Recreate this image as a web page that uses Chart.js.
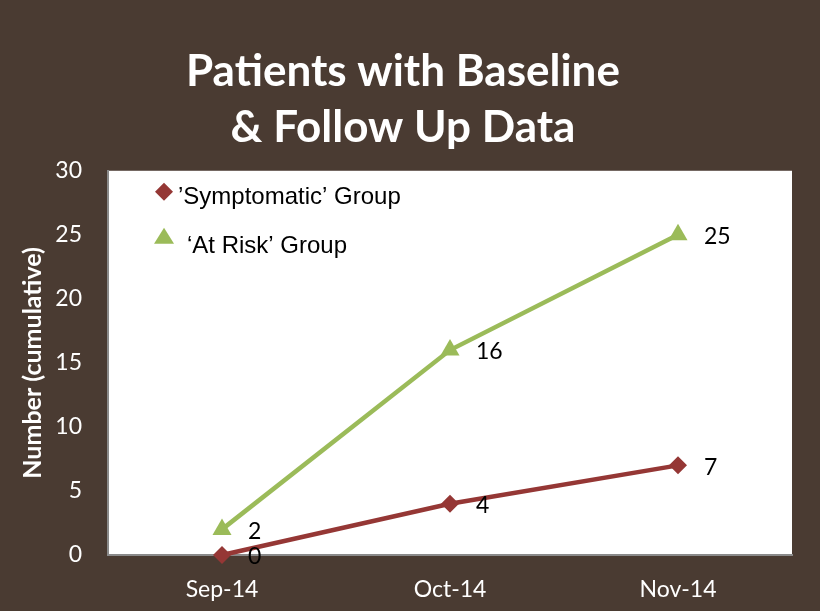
<!DOCTYPE html>
<html>
<head>
<meta charset="utf-8">
<script src="https://cdn.jsdelivr.net/npm/chart.js@4.4.0/dist/chart.umd.min.js"></script>
<style>
  html, body { margin: 0; padding: 0; background: #4a3b32; }
  #wrap { width: 820px; height: 611px; }
</style>
</head>
<body>
<div id="wrap"><canvas id="myChart" width="820" height="611"></canvas></div>
<script>
// ---- data ----
const months = ['Sep-14', 'Oct-14', 'Nov-14'];
const symptomatic = [0, 4, 7];
const atRisk = [2, 16, 25];
const yMin = 0, yMax = 30, yStep = 5;

const BROWN = '#4a3b32';
const RED = '#953735';
const GREEN = '#9bbb59';

// ---- plugins ----
const bgPlugin = {
    id: 'bg',
    beforeDraw(chart) {
        const c = chart.ctx, a = chart.chartArea;
        c.save();
        c.fillStyle = BROWN;
        c.fillRect(0, 0, chart.width, chart.height);
        c.fillStyle = '#fff';
        c.fillRect(a.left, a.top, a.right - a.left, a.bottom - a.top);
        c.restore();
    }
};

// numbers next to the points
const labelPlugin = {
    id: 'pointLabels',
    afterDatasetsDraw(chart) {
        const c = chart.ctx;
        c.save();
        c.font = '23px Lato, sans-serif';
        c.fillStyle = '#000';
        c.textBaseline = 'middle';
        c.textAlign = 'left';
        chart.data.datasets.forEach((ds, i) => {
            const meta = chart.getDatasetMeta(i);
            meta.data.forEach((pt, j) => {
                c.fillText(String(ds.data[j]), pt.x + 26, pt.y + 2);
            });
        });
        c.restore();
    }
};

// legend sitting inside the plot area
const innerLegend = {
    id: 'innerLegend',
    afterDraw(chart) {
        const c = chart.ctx, a = chart.chartArea;
        c.save();
        c.font = '24px "Liberation Sans", Arial, sans-serif';
        c.textBaseline = 'middle';
        // diamond
        let x = a.left + 56, y = a.top + 21;
        c.fillStyle = RED;
        c.beginPath();
        c.moveTo(x, y - 9); c.lineTo(x + 9, y); c.lineTo(x, y + 9); c.lineTo(x - 9, y);
        c.closePath(); c.fill();
        c.fillStyle = '#000';
        c.fillText(chart.data.datasets[0].label, x + 14, y + 6);
        // triangle
        y = a.top + 65;
        c.fillStyle = GREEN;
        c.beginPath();
        c.moveTo(x, y - 8); c.lineTo(x + 10, y + 8); c.lineTo(x - 10, y + 8);
        c.closePath(); c.fill();
        c.fillStyle = '#000';
        c.fillText(chart.data.datasets[1].label, x + 23, y + 11);
        c.restore();
    }
};

const ctx = document.getElementById('myChart').getContext('2d');
const sensorsChart = new Chart(ctx, {
    type: 'line',
    data: {
        labels: months,
        datasets: [
            {
                label: '\u2019Symptomatic\u2019 Group',
                data: symptomatic,
                borderColor: RED,
                backgroundColor: RED,
                borderWidth: 4.5,
                pointStyle: 'rectRot',
                pointRadius: 9,
                pointBorderWidth: 0,
                tension: 0,
                clip: false
            },
            {
                label: '\u2018At Risk\u2019 Group',
                data: atRisk,
                borderColor: GREEN,
                backgroundColor: GREEN,
                borderWidth: 4.5,
                pointStyle: 'triangle',
                pointRadius: 11,
                pointBorderWidth: 0,
                tension: 0,
                clip: false
            }
        ]
    },
    options: {
        responsive: false,
        animation: false,
        layout: { autoPadding: false, padding: { left: 14, right: 28, bottom: 0 } },
        plugins: {
            legend: { display: false },
            tooltip: { enabled: false },
            title: {
                display: true,
                text: ['Patients with Baseline', '& Follow Up Data'],
                color: '#fff',
                font: { family: 'Lato, sans-serif', size: 44, weight: 'bold', lineHeight: 1.27 },
                padding: { top: 44, bottom: 15 }
            }
        },
        scales: {
            x: {
                offset: true,
                grid: { display: false },
                border: { display: true, color: '#8a8a8a', width: 2 },
                ticks: { color: '#fff', font: { family: 'Lato, sans-serif', size: 23 }, padding: 13 },
                afterFit(scale) { scale.height = 56; }
            },
            y: {
                min: yMin,
                max: yMax,
                grid: { display: false },
                border: { display: true, color: '#8a8a8a', width: 2 },
                ticks: { stepSize: yStep, color: '#fff', font: { family: 'Lato, sans-serif', size: 23 }, padding: 18 },
                title: {
                    display: true,
                    text: 'Number (cumulative)',
                    color: '#fff',
                    font: { family: 'Lato, sans-serif', size: 25, weight: 'bold' },
                    padding: { top: 4, bottom: 0 }
                },
                afterFit(scale) { scale.width = 94; }
            }
        }
    },
    plugins: [bgPlugin, labelPlugin, innerLegend]
});
</script>
</body>
</html>
